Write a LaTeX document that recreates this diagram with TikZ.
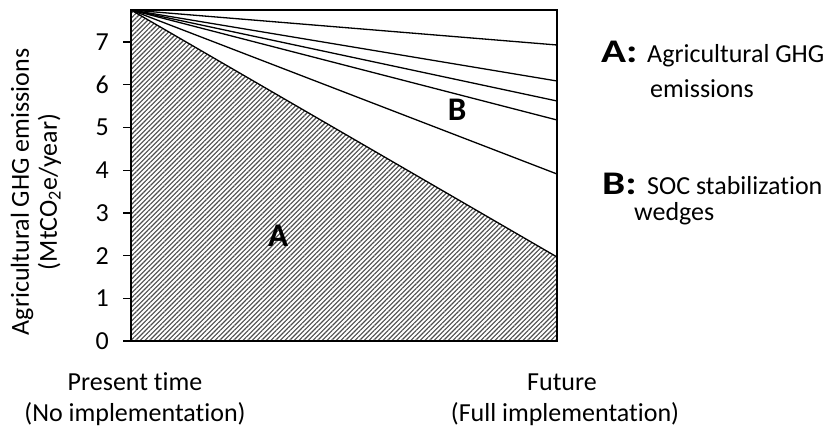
\documentclass[tikz,border=0pt]{standalone}
\usepackage{fontspec}
\setmainfont{Carlito}[Ligatures=NoCommon]
\usetikzlibrary{patterns.meta}
\tikzset{
  txt/.style={font=\fontsize{26}{31}\selectfont, inner sep=0pt},
  bigletter/.style={font=\fontsize{33}{36}\selectfont\bfseries, inner sep=0pt},
  wedge/.style={line width=1.3pt, black},
  tickmark/.style={line width=1.3pt, black},
}
\begin{document}
\begin{tikzpicture}[x=1pt,y=-1pt]
\useasboundingbox (0,0) rectangle (833,434);
% corners of the plot
\coordinate (tl) at (131,10);
\coordinate (tr) at (557,10);
\coordinate (bl) at (131,341);
\coordinate (br) at (557,341);
% hatched region A
\fill[pattern={Lines[angle=45,distance=3.3pt,line width=1.1pt]}, pattern color=black!70]
  (tl) -- (557,257) -- (br) -- (bl) -- cycle;
% wedge lines
\foreach \y/\n in {45/e1,81/e2,101/e3,120/e4,174/e5,257/e6}{
  \coordinate (\n) at (557,\y);
  \draw[wedge] (tl) -- (\n);
}
% frame
\draw[line width=1.5pt] (tl) rectangle (br);
% ticks and labels
\foreach \k in {0,...,7}{
  \coordinate (t\k) at (131,{341-42.7*\k});
  \draw[tickmark] (t\k) -- ++(-8,0);
  \node[txt, anchor=east] (tl\k) at ([xshift=-22pt]t\k) {\k};
}
% region letters
\node[bigletter] (lblA) at (278,236) {A};
\node[bigletter] (lblB) at (457,110) {B};
% y axis title
\node[txt, rotate=90, align=center, font=\fontsize{26}{28}\selectfont] (ytitle) at (36,192)
  {Agricultural GHG emissions\\(MtCO\textsubscript{2}e/year)};
% x axis labels
\node[txt, anchor=base] (pres1) at (135,390) {Present time};
\node[txt, anchor=base] (pres2) at (135,421) {(No implementation)};
\node[txt, anchor=base] (fut1) at (562,390) {Future};
\node[txt, anchor=base] (fut2) at (565,421) {(Full implementation)};
% legend
\node[bigletter, anchor=base west] (legA) at (601,62) {\scalebox{1.25}[1]{A:}};
\node[txt, anchor=base west] (legAt1) at (647,62) {Agricultural GHG};
\node[txt, anchor=base west] (legAt2) at (650,97) {emissions};
\node[bigletter, anchor=base west] (legB) at (602,194) {\scalebox{1.25}[1]{B:}};
\node[txt, anchor=base west] (legBt1) at (647,194) {SOC stabilization};
\node[txt, anchor=base west] (legBt2) at (634,220) {wedges};
\end{tikzpicture}
\end{document}
